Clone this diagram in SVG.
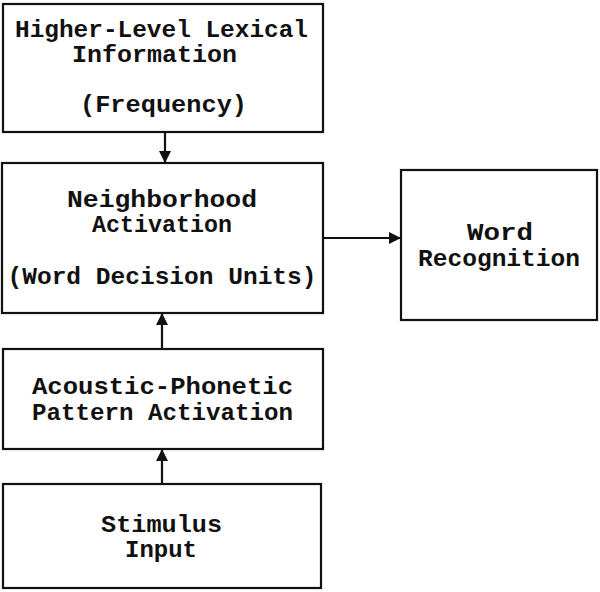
<svg xmlns="http://www.w3.org/2000/svg" width="600" height="592" viewBox="0 0 600 592">
<style>
rect.box{fill:#fff;stroke:#111;stroke-width:2.2}
text{font-family:"Liberation Mono","DejaVu Sans Mono",monospace;font-weight:bold;font-size:24px;fill:#111;text-anchor:middle}
.conn line{stroke:#111;stroke-width:2.2}
</style>
<defs>
<marker id="ah" markerWidth="12" markerHeight="12" viewBox="0 0 12 12" refX="11" refY="6" orient="auto" markerUnits="userSpaceOnUse">
<path d="M0,0 L12,6 L0,12 Z" fill="#111"/>
</marker>
</defs>
<rect width="600" height="592" fill="#fff"/>
<g id="higher-level">
<rect class="box" x="3" y="4" width="320" height="128"/>
<text x="161.5" y="37" textLength="293" lengthAdjust="spacingAndGlyphs">Higher-Level Lexical</text>
<text x="154.5" y="62" textLength="165" lengthAdjust="spacingAndGlyphs">Information</text>
<text x="163.5" y="112" textLength="167" lengthAdjust="spacingAndGlyphs">(Frequency)</text>
</g>
<g id="neighborhood">
<rect class="box" x="2" y="163" width="321" height="150"/>
<text x="162" y="207" textLength="190" lengthAdjust="spacingAndGlyphs">Neighborhood</text>
<text x="162" y="232" textLength="140" lengthAdjust="spacingAndGlyphs">Activation</text>
<text x="162" y="284" textLength="309" lengthAdjust="spacingAndGlyphs">(Word Decision Units)</text>
</g>
<g id="word-recognition">
<rect class="box" x="401" y="170" width="196" height="150"/>
<text x="500" y="240" textLength="66" lengthAdjust="spacingAndGlyphs">Word</text>
<text x="499" y="266" textLength="162" lengthAdjust="spacingAndGlyphs">Recognition</text>
</g>
<g id="acoustic">
<rect class="box" x="3" y="349" width="320" height="100"/>
<text x="162.5" y="394" textLength="261" lengthAdjust="spacingAndGlyphs">Acoustic-Phonetic</text>
<text x="162.5" y="420" textLength="261" lengthAdjust="spacingAndGlyphs">Pattern Activation</text>
</g>
<g id="stimulus">
<rect class="box" x="3" y="484" width="318" height="104"/>
<text x="161.5" y="532" textLength="121" lengthAdjust="spacingAndGlyphs">Stimulus</text>
<text x="161" y="557" textLength="72" lengthAdjust="spacingAndGlyphs">Input</text>
</g>
<g class="conn" id="connectors">
<line x1="165" y1="132" x2="165" y2="162" marker-end="url(#ah)"/>
<line x1="323" y1="238" x2="400" y2="238" marker-end="url(#ah)"/>
<line x1="162" y1="349" x2="162" y2="314" marker-end="url(#ah)"/>
<line x1="162" y1="484" x2="162" y2="450" marker-end="url(#ah)"/>
</g>
</svg>
